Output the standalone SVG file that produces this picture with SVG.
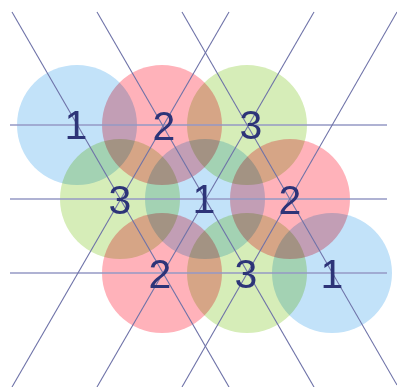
<svg xmlns="http://www.w3.org/2000/svg" width="397" height="387" viewBox="0 0 397 387">
<style>
.c{mix-blend-mode:multiply}
.b{fill:#c2e2f9}
.r{fill:#ffb2ba}
.g{fill:#d6edb8}
.ln line{stroke:#6e72a8;stroke-width:1.1}
.ln .h{stroke:#9498c4;stroke-width:1.6}
text{font-family:"Liberation Sans",Arial,sans-serif;font-size:41px;fill:#2d3478;text-anchor:middle}
</style>
<rect width="397" height="387" fill="#ffffff"/>
<g id="circles" style="isolation:isolate">
<g id="n1a"><circle class="c b" cx="77" cy="125" r="60"/></g>
<g id="n2a"><circle class="c r" cx="162" cy="125" r="60"/></g>
<g id="n3a"><circle class="c g" cx="247" cy="125" r="60"/></g>
<g id="n3b"><circle class="c g" cx="120" cy="199" r="60"/></g>
<g id="n1b"><circle class="c b" cx="205" cy="199" r="60"/></g>
<g id="n2b"><circle class="c r" cx="290" cy="199" r="60"/></g>
<g id="n2c"><circle class="c r" cx="162" cy="273" r="60"/></g>
<g id="n3c"><circle class="c g" cx="247" cy="273" r="60"/></g>
<g id="n1c"><circle class="c b" cx="332" cy="273" r="60"/></g>
</g>
<g id="connectors" class="ln">
<line class="h" x1="10" y1="125" x2="387" y2="125"/>
<line class="h" x1="10" y1="199" x2="387" y2="199"/>
<line class="h" x1="10" y1="273" x2="387" y2="273"/>
<line x1="12" y1="12" x2="229" y2="387"/>
<line x1="97" y1="12" x2="314" y2="387"/>
<line x1="182" y1="12" x2="397" y2="385"/>
<line x1="229" y1="12" x2="12" y2="387"/>
<line x1="314" y1="12" x2="97" y2="387"/>
<line x1="397" y1="12" x2="182" y2="387"/>
</g>
<g id="labels">
<text x="76" y="139">1</text>
<text x="164" y="140">2</text>
<text x="251" y="139">3</text>
<text x="120" y="214">3</text>
<text x="204" y="213">1</text>
<text x="290" y="214">2</text>
<text x="160" y="288">2</text>
<text x="246" y="288">3</text>
<text x="332" y="288">1</text>
</g>
</svg>
